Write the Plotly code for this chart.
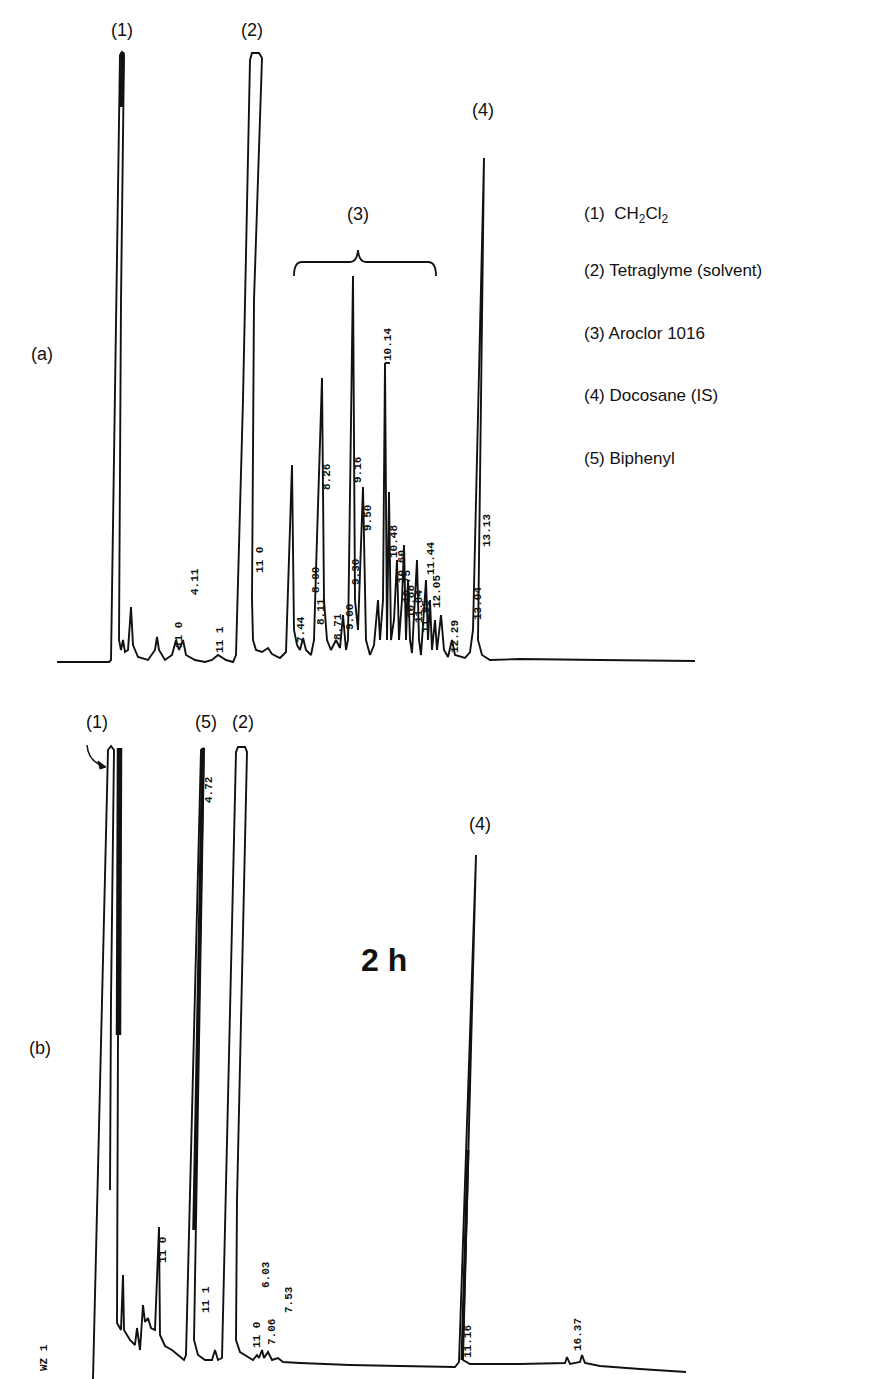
import plotly.graph_objects as go

# ---------------- DATA ----------------
# Panel (a): chart position (arbitrary units along recorder paper) and detector signal (arb.)
a_pos = [57, 109, 111, 116, 120, 122, 124, 121, 119, 121, 123, 125, 128, 131, 133, 138, 148, 155, 157, 159,
         165, 172, 176, 179, 183, 186, 195, 205, 212, 218, 226, 233, 236, 243, 250, 252, 259, 262, 254, 252,
         253, 256, 262, 268, 272, 280, 286, 292, 294, 297, 300, 303, 306, 311, 314, 316, 322, 324, 327, 331,
         336, 340, 343, 346, 348, 353, 355, 358, 363, 366, 370, 374, 378, 380, 383, 385, 387, 389, 391, 394,
         397, 399, 402, 404, 406, 408, 410, 412, 415, 417, 419, 421, 424, 426, 428, 430, 432, 435, 437, 441,
         444, 448, 452, 455, 465, 470, 473, 484, 478, 482, 490, 520, 600, 695]
a_sig = [0, 0, 2, 362, 607, 610, 607, 362, 22, 12, 22, 10, 12, 55, 17, 5, 2, 12, 25, 12,
         2, 7, 22, 12, 22, 7, 2, 0, 2, 7, 2, 0, 7, 262, 602, 609, 609, 604, 362, 62,
         22, 12, 10, 14, 8, 4, 10, 197, 32, 17, 12, 24, 12, 7, 22, 92, 284, 62, 22, 12,
         22, 14, 47, 12, 22, 386, 62, 32, 175, 22, 7, 17, 62, 22, 62, 299, 22, 170, 22, 42,
         102, 22, 62, 117, 22, 82, 22, 9, 62, 102, 22, 7, 52, 82, 22, 62, 12, 42, 12, 47,
         12, 5, 22, 7, 4, 10, 32, 504, 22, 7, 2, 3, 2, 1]
# heavy (overdrawn) pen segment at top of peak (1)
a_heavy_pos = [122.5, 121.5]
a_heavy_sig = [610, 555]
# integrator tick on the 10.14 peak
a_tick_pos = [385, 390]
a_tick_sig = [299, 299]

# Panel (b), 2 h sample
b_pos = [93, 108, 111, 114, 111, 110, None,
         118, 117, 121, 123, 124, 130, 135, 137, 140, 143, 145, 148, 151, 155, 159, 160, 165, 172, 178,
         184, 186, 201, 204, 195, 194, 198, 205, 212, 215, 218, 222, 236, 238, 245, 247, 237, 236,
         240, 248, 253, 257, 259, 262, 264, 268, 272, 278, 283, 300, 350, 400, 455, 459, 476, 463,
         470, 520, 565, 567, 570, 580, 582, 585, 600, 640, 686]
b_sig = [-9, 620, 624, 620, 370, 180, None,
         335, 47, 40, 95, 40, 30, 25, 42, 20, 65, 48, 52, 42, 40, 143, 35, 24, 20, 15,
         10, 15, 620, 622, 70, 30, 15, 10, 10, 20, 10, 12, 618, 623, 623, 618, 170, 30,
         18, 13, 10, 15, 12, 20, 12, 18, 10, 12, 8, 7, 5, 4, 3, 8, 515, 10,
         6, 6, 7, 13, 6, 8, 15, 7, 4, 1, -2]
# heavy pen segments: CH2Cl2 bar, biphenyl (5), docosane (4)
b_heavy = [([119.5, 118.5], [622, 335], 5.5),
           ([203, 194], [622, 140], 3.5),
           ([462, 468], [10, 220], 3.0)]

# integrator retention-time print-outs: (text, position, signal level of text centre)
a_rt_labels = [("4.11", 195, 80), ("11 0", 179, 27), ("11 1", 220, 22), ("11 0", 260, 102),
               ("7.44", 301, 32), ("8.00", 316, 82), ("8.11", 321, 50), ("8.26", 327, 185),
               ("8.71", 338, 35), ("9.00", 350, 45), ("9.30", 356, 90), ("9.16", 358, 192),
               ("9.50", 368, 144), ("10.14", 388, 317), ("10.48", 394, 120), ("10.60", 402, 95),
               ("10.75", 407, 75), ("10.88", 411, 60), ("11.04", 419, 55), ("11.44", 431, 103),
               ("11.95", 426, 45), ("12.05", 437, 70), ("12.29", 455, 25), ("13.04", 478, 58),
               ("13.13", 487, 131)]
b_rt_labels = [("4.72", 209, 580), ("11 0", 163, 120), ("11 1", 206, 70), ("11 0", 257, 35),
               ("7.06", 272, 38), ("6.03", 266, 95), ("7.53", 289, 70), ("11.16", 468, 28),
               ("16.37", 578, 35), ("WZ 1", 44, 12)]

legend_lines = ["(1)  CH<sub>2</sub>Cl<sub>2</sub>", "(2) Tetraglyme (solvent)", "(3) Aroclor 1016",
                "(4) Docosane (IS)", "(5) Biphenyl"]

# ---------------- FIGURE ----------------
PAGE_W, PAGE_H, BODY = 879, 1379, 8     # browser window and default page margin
W, H = PAGE_W - BODY, PAGE_H - BODY
SPLIT = 697.5                             # page row dividing the two chromatograms
A0, B0 = 662, 1370                        # recorder baselines (page rows) used for placing text


def ya(row):
    return A0 - row


def yb(row):
    return B0 - row


ink = "#111111"
LW = 1.9
fig = go.Figure()
fig.add_trace(go.Scatter(x=a_pos, y=a_sig, mode="lines", line=dict(color=ink, width=LW),
                         xaxis="x", yaxis="y", hoverinfo="skip", cliponaxis=False))
fig.add_trace(go.Scatter(x=a_heavy_pos, y=a_heavy_sig, mode="lines", line=dict(color=ink, width=4),
                         xaxis="x", yaxis="y", hoverinfo="skip"))
fig.add_trace(go.Scatter(x=a_tick_pos, y=a_tick_sig, mode="lines", line=dict(color=ink, width=LW),
                         xaxis="x", yaxis="y", hoverinfo="skip"))
fig.add_trace(go.Scatter(x=b_pos, y=b_sig, mode="lines", line=dict(color=ink, width=LW),
                         xaxis="x2", yaxis="y2", hoverinfo="skip", cliponaxis=False, connectgaps=False))
for px, sg, wd in b_heavy:
    fig.add_trace(go.Scatter(x=px, y=sg, mode="lines", line=dict(color=ink, width=wd),
                             xaxis="x2", yaxis="y2", hoverinfo="skip"))

ann = []
lab_font = dict(family="Liberation Sans, Arial, sans-serif", size=18, color=ink)
for txt, x, row in [("(1)", 122, 30), ("(2)", 252, 30), ("(4)", 483, 110), ("(3)", 358, 214), ("(a)", 42, 354)]:
    ann.append(dict(text=txt, x=x, y=ya(row), xref="x", yref="y", showarrow=False, font=lab_font))
for txt, x, row in [("(1)", 97, 722), ("(5)", 206, 722), ("(2)", 243, 722), ("(4)", 480, 824), ("(b)", 40, 1048)]:
    ann.append(dict(text=txt, x=x, y=yb(row), xref="x2", yref="y2", showarrow=False, font=lab_font))
ann.append(dict(text="<b>2 h</b>", x=384, y=yb(960), xref="x2", yref="y2", showarrow=False,
                font=dict(family="Liberation Sans, Arial, sans-serif", size=32, color=ink)))
leg_rows = [215, 270, 333, 395, 458]
for txt, row in zip(legend_lines, leg_rows):
    ann.append(dict(text=txt, x=582, y=ya(row), xref="x", yref="y", showarrow=False, xanchor="left",
                    font=dict(family="Liberation Sans, Arial, sans-serif", size=17, color=ink)))
mono = dict(family="Liberation Mono, Courier New, monospace", size=11, color=ink)
for txt, x, s in a_rt_labels:
    ann.append(dict(text="<b>%s</b>" % txt, x=x, y=s, xref="x", yref="y", showarrow=False,
                    textangle=-90, font=mono))
for txt, x, s in b_rt_labels:
    ann.append(dict(text="<b>%s</b>" % txt, x=x, y=s, xref="x2", yref="y2", showarrow=False,
                    textangle=-90, font=mono))

shapes = [
    # brace over Aroclor cluster (3)
    dict(type="path", xref="x", yref="y", line=dict(color=ink, width=1.8),
         path="M 294,%g Q 294,%g 302,%g L 350,%g Q 357,%g 358,%g Q 359,%g 366,%g L 428,%g Q 436,%g 436,%g" % (
             ya(276), ya(262), ya(262), ya(262), ya(262), ya(250), ya(262), ya(262), ya(262), ya(262), ya(276))),
    # curved arrow shaft in (b)
    dict(type="path", xref="x2", yref="y2", line=dict(color=ink, width=1.5),
         path="M 87,%g Q 88,%g 101,%g" % (yb(745), yb(760), yb(765))),
    # arrowhead
    dict(type="path", xref="x2", yref="y2", line=dict(color=ink, width=1), fillcolor=ink,
         path="M 106,%g L 98,%g L 100,%g Z" % (yb(767), yb(761), yb(769))),
]

fig.update_layout(
    width=W, height=H, margin=dict(l=0, r=0, t=0, b=0),
    paper_bgcolor="white", plot_bgcolor="white", showlegend=False,
    xaxis=dict(domain=[0, 1], range=[BODY, PAGE_W], visible=False, anchor="y"),
    yaxis=dict(domain=[1 - (SPLIT - BODY) / H, 1], range=[A0 - SPLIT, A0 - BODY], visible=False, anchor="x"),
    xaxis2=dict(domain=[0, 1], range=[BODY, PAGE_W], visible=False, anchor="y2"),
    yaxis2=dict(domain=[0, 1 - (SPLIT - BODY) / H], range=[B0 - PAGE_H, B0 - SPLIT], visible=False, anchor="x2"),
    annotations=ann, shapes=shapes,
)
fig.write_html("out.html")
